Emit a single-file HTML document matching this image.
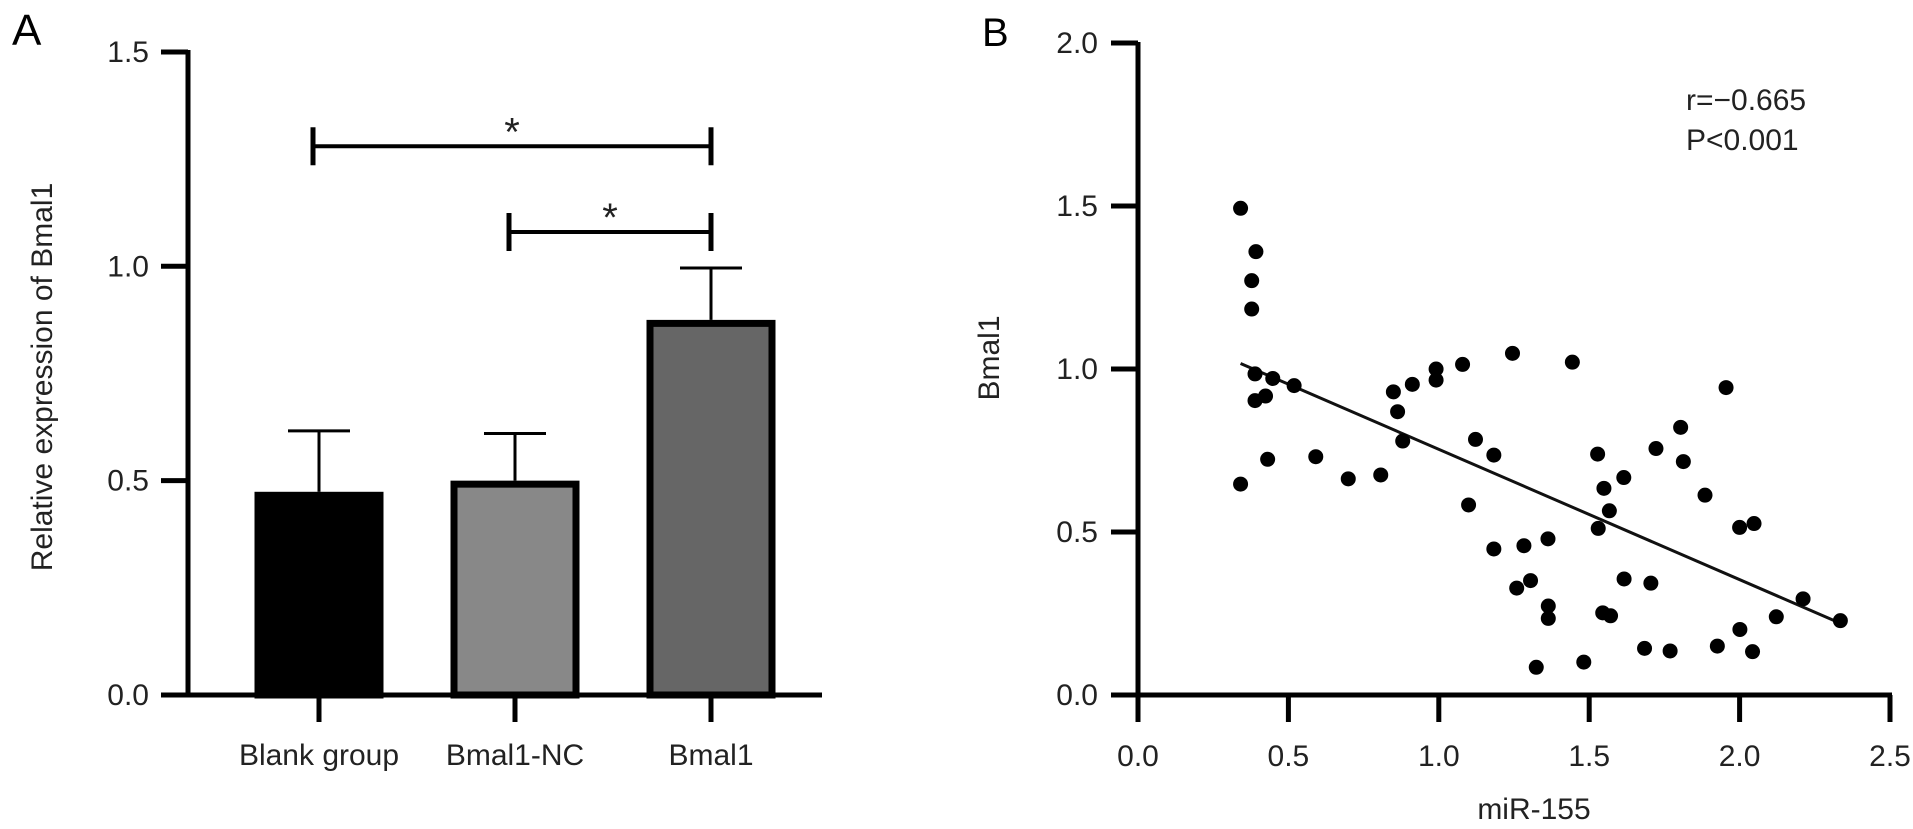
<!DOCTYPE html>
<html><head><meta charset="utf-8"><style>
html,body{margin:0;padding:0;background:#fff;}
svg{display:block;font-family:"Liberation Sans",Arial,sans-serif;}
</style></head><body>
<svg id="fig" width="1913" height="829" viewBox="0 0 1913 829">
<g id="pa"></g>
<g id="pb"></g>
</svg>
<script>
// Panel A data
const categories = ["Blank group", "Bmal1-NC", "Bmal1"];
const barMeans = [0.474, 0.50, 0.875];
const barErrTop = [0.616, 0.61, 0.996];
const barFills = ["#000000", "#888888", "#666666"];
const aTicks = [0.0, 0.5, 1.0, 1.5];
const aTickLabels = ["0.0", "0.5", "1.0", "1.5"];
const sigFrom = [0, 1];
const sigTo = [2, 2];
const sigLevel = [1.28, 1.08];

// Panel B data
const missX = [0.341,0.392,0.378,0.378,0.389,0.448,0.519,0.389,0.424,0.431,0.341,0.591,0.699,0.807,0.849,0.863,0.912,0.880,0.991,0.991,1.079,1.245,1.122,1.183,1.099,1.183,1.283,1.363,1.567,1.530,2.000,2.048,1.305,1.259,1.616,1.705,1.364,1.364,1.545,1.571,2.211,2.122,2.335,2.001,1.684,1.769,1.926,2.043,1.324,1.482,1.444,1.955,1.804,1.722,1.813,1.528,1.615,1.549,1.885];
const bmalY = [1.493,1.360,1.271,1.184,0.985,0.971,0.949,0.903,0.917,0.723,0.647,0.731,0.663,0.675,0.930,0.869,0.953,0.779,1.000,0.966,1.014,1.048,0.784,0.736,0.583,0.448,0.458,0.479,0.565,0.511,0.514,0.526,0.351,0.328,0.356,0.343,0.273,0.235,0.252,0.243,0.295,0.240,0.228,0.201,0.143,0.135,0.150,0.133,0.085,0.101,1.021,0.943,0.821,0.756,0.716,0.739,0.667,0.634,0.613];
const fitX = [0.341, 2.33];
const fitY = [1.017, 0.222];
const bxTicks = [0.0, 0.5, 1.0, 1.5, 2.0, 2.5];
const bxTickLabels = ["0.0", "0.5", "1.0", "1.5", "2.0", "2.5"];
const byTicks = [0.0, 0.5, 1.0, 1.5, 2.0];
const byTickLabels = ["0.0", "0.5", "1.0", "1.5", "2.0"];

const NS = "http://www.w3.org/2000/svg";
const FS = 30;
function mk(parent, tag, attrs, text) {
  const e = document.createElementNS(NS, tag);
  for (const k in attrs) e.setAttribute(k, attrs[k]);
  if (text !== undefined) e.textContent = text;
  parent.appendChild(e);
  return e;
}

// ---------- Panel A ----------
const pa = document.getElementById("pa");
const ay = v => 695 - v * 428.7;
const ax = i => 319 + i * 196;
let t = mk(pa, "text", {x: 12, y: 45, "font-size": 44}, "A");


t = mk(pa, "text", {x: 0, y: 0, "font-size": FS, "text-anchor": "middle", fill: "#222", transform: "translate(52,377) rotate(-90)"}, "Relative expression of Bmal1");


aTicks.forEach((v, i) => {
  const l = mk(pa, "line", {x1: 161, x2: 188, y1: ay(v), y2: ay(v), stroke: "#000", "stroke-width": 5});
  
  
  const tx = mk(pa, "text", {x: 149, y: ay(v) + 10, "font-size": FS, "text-anchor": "end", fill: "#222"}, aTickLabels[i]);
  
  
});
categories.forEach((c, i) => {
  const cx = ax(i);
  const top = ay(barMeans[i]);
  const eb = mk(pa, "line", {x1: cx, x2: cx, y1: ay(barErrTop[i]), y2: top, stroke: "#000", "stroke-width": 3});
  
  
  const cap = mk(pa, "line", {x1: cx - 31, x2: cx + 31, y1: ay(barErrTop[i]), y2: ay(barErrTop[i]), stroke: "#000", "stroke-width": 3});
  
  
  const r = mk(pa, "rect", {x: cx - 61, y: top + 3.5, width: 122, height: 695 - top - 3.5, fill: barFills[i], stroke: "#000", "stroke-width": 7});
  
  
  const tk = mk(pa, "line", {x1: cx, x2: cx, y1: 695, y2: 722, stroke: "#000", "stroke-width": 5});
  
  
  const lb = mk(pa, "text", {x: cx, y: 765, "font-size": FS, "text-anchor": "middle", fill: "#222"}, c);
  
  
});
let axl = mk(pa, "line", {x1: 188, x2: 188, y1: 50, y2: 697.5, stroke: "#000", "stroke-width": 5});


axl = mk(pa, "line", {x1: 161, x2: 822, y1: 695, y2: 695, stroke: "#000", "stroke-width": 5});


sigFrom.forEach((f, k) => {
  const y = ay(sigLevel[k]);
  const x1 = ax(f) - 6, x2 = ax(sigTo[k]);
  const g = mk(pa, "g", {});
  
  
  mk(g, "line", {x1: x1, x2: x2, y1: y, y2: y, stroke: "#000", "stroke-width": 4});
  mk(g, "line", {x1: x1, x2: x1, y1: y - 19, y2: y + 19, stroke: "#000", "stroke-width": 5});
  mk(g, "line", {x1: x2, x2: x2, y1: y - 19, y2: y + 19, stroke: "#000", "stroke-width": 5});
  const s = mk(g, "text", {x: (x1 + x2) / 2, y: y - 1, "font-size": 40, "text-anchor": "middle", fill: "#222"}, "*");
  
  
});

// ---------- Panel B ----------
const pb = document.getElementById("pb");
const bx = v => 1138 + v * 300.8;
const by = v => 695 - v * 326;
t = mk(pb, "text", {x: 982, y: 46, "font-size": 40}, "B");


t = mk(pb, "text", {x: 0, y: 0, "font-size": FS, "text-anchor": "middle", fill: "#222", transform: "translate(999,358) rotate(-90)"}, "Bmal1");


t = mk(pb, "text", {x: 1534, y: 819, "font-size": FS, "text-anchor": "middle", fill: "#222"}, "miR-155");


byTicks.forEach((v, i) => {
  const l = mk(pb, "line", {x1: 1111, x2: 1138, y1: by(v), y2: by(v), stroke: "#000", "stroke-width": 5});
  
  
  const tx = mk(pb, "text", {x: 1098, y: by(v) + 10, "font-size": FS, "text-anchor": "end", fill: "#222"}, byTickLabels[i]);
  
  
});
bxTicks.forEach((v, i) => {
  const l = mk(pb, "line", {x1: bx(v), x2: bx(v), y1: 695, y2: 722, stroke: "#000", "stroke-width": 5});
  
  
  const tx = mk(pb, "text", {x: bx(v), y: 766, "font-size": FS, "text-anchor": "middle", fill: "#222"}, bxTickLabels[i]);
  
  
});
axl = mk(pb, "line", {x1: 1138, x2: 1138, y1: 42, y2: 697.5, stroke: "#000", "stroke-width": 5});


axl = mk(pb, "line", {x1: 1111, x2: 1892, y1: 695, y2: 695, stroke: "#000", "stroke-width": 5});


const fl = mk(pb, "line", {x1: bx(fitX[0]), y1: by(fitY[0]), x2: bx(fitX[1]), y2: by(fitY[1]), stroke: "#111", "stroke-width": 3});


missX.forEach((v, i) => {
  const c = mk(pb, "circle", {cx: bx(v), cy: by(bmalY[i]), r: 7.5, fill: "#000"});
  
  
});
t = mk(pb, "text", {x: 1686, y: 110, "font-size": FS, fill: "#222"}, "r=\u22120.665");


t = mk(pb, "text", {x: 1686, y: 150, "font-size": FS, fill: "#222"}, "P<0.001");


</script>
</body></html>
